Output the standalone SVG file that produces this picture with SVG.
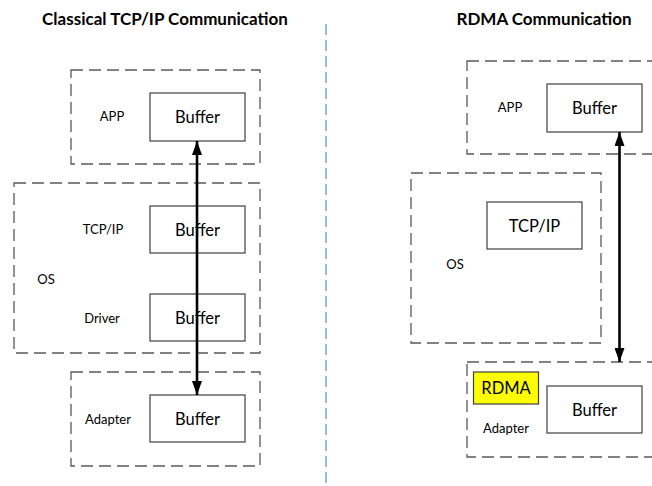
<svg xmlns="http://www.w3.org/2000/svg" width="652" height="486" viewBox="0 0 652 486">
  <style>
    .title { font-family: Lato, "Open Sans", sans-serif; font-weight: bold; font-size: 17px; fill: #000; text-anchor: middle; }
    .label { font-family: Lato, "Open Sans", sans-serif; font-size: 13px; fill: #000; text-anchor: middle; }
    .buf { font-family: Lato, "Open Sans", sans-serif; font-size: 16.5px; fill: #000; text-anchor: middle; }
    .group { fill: none; stroke: #595959; stroke-width: 1.3; stroke-dasharray: 12 6; }
    .box { fill: #fff; stroke: #404040; stroke-width: 1.2; }
    .rdma { fill: #ffff00; stroke: #404040; stroke-width: 1.2; }
    .link { stroke: #000; stroke-width: 2.6; fill: none; marker-start: url(#head); marker-end: url(#head); }
    .divider { stroke: #5b9bd5; stroke-width: 1.3; stroke-dasharray: 11 5; }
  </style>
  <defs>
    <marker id="head" viewBox="0 0 14 10" refX="14" refY="5" markerWidth="14" markerHeight="10" markerUnits="userSpaceOnUse" orient="auto-start-reverse">
      <path d="M0 0 L14 5 L0 10 Z" fill="#000"/>
    </marker>
  </defs>

  <rect width="652" height="486" fill="#fff"/>

  <!-- titles -->
  <text class="title" x="165" y="25">Classical TCP/IP Communication</text>
  <text class="title" x="544" y="25">RDMA Communication</text>

  <!-- divider between the two stacks -->
  <line class="divider" x1="326" y1="24" x2="326" y2="486"/>

  <!-- classical stack -->
  <g id="tcp-app">
    <rect class="group" x="71" y="70" width="189" height="94"/>
    <text class="label" x="112" y="121">APP</text>
    <rect class="box" x="150" y="93" width="95" height="48"/>
    <text class="buf" x="197.5" y="123">Buffer</text>
  </g>

  <g id="tcp-os">
    <rect class="group" x="14" y="183" width="246" height="170"/>
    <text class="label" x="46" y="284">OS</text>
    <text class="label" x="103" y="234">TCP/IP</text>
    <rect class="box" x="150" y="206" width="95" height="47"/>
    <text class="buf" x="197.5" y="235.5">Buffer</text>
    <text class="label" x="102" y="323">Driver</text>
    <rect class="box" x="150" y="294" width="95" height="47"/>
    <text class="buf" x="197.5" y="324">Buffer</text>
  </g>

  <g id="tcp-adapter">
    <rect class="group" x="71" y="372" width="189" height="94"/>
    <text class="label" x="108" y="424">Adapter</text>
    <rect class="box" x="150" y="395" width="95" height="47"/>
    <text class="buf" x="197.5" y="425">Buffer</text>
  </g>

  <!-- RDMA stack -->
  <g id="rdma-app">
    <rect class="group" x="467" y="61" width="200" height="93"/>
    <text class="label" x="510" y="112">APP</text>
    <rect class="box" x="547" y="84" width="95" height="48"/>
    <text class="buf" x="594.5" y="113.5">Buffer</text>
  </g>

  <g id="rdma-os">
    <rect class="group" x="411" y="173" width="190" height="170"/>
    <text class="label" x="455" y="269">OS</text>
    <rect class="box" x="487" y="202" width="95" height="47"/>
    <text class="buf" x="534.5" y="231.5">TCP/IP</text>
  </g>

  <g id="rdma-adapter">
    <rect class="group" x="467" y="362" width="200" height="95"/>
    <rect class="rdma" x="473.5" y="372" width="65" height="32"/>
    <text class="buf" x="506" y="394">RDMA</text>
    <text class="label" x="506" y="433">Adapter</text>
    <rect class="box" x="547" y="386" width="95" height="47"/>
    <text class="buf" x="594.5" y="415.5">Buffer</text>
  </g>

  <!-- data paths -->
  <g id="connectors">
    <line class="link" x1="197" y1="141" x2="197" y2="395"/>
    <line class="link" x1="619.5" y1="132" x2="619.5" y2="362"/>
  </g>
</svg>
